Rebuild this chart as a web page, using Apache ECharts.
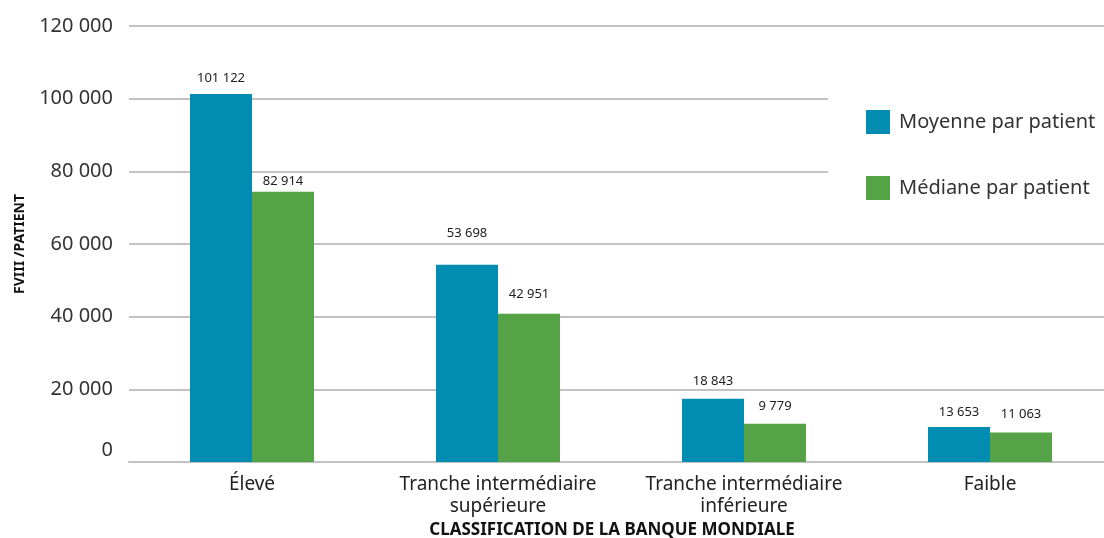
<!DOCTYPE html>
<html lang="fr">
<head>
    <meta charset="utf-8">
    <title>FVIII par patient selon la classification de la Banque mondiale</title>
    <script src="https://cdn.jsdelivr.net/npm/echarts@6/dist/echarts.min.js"></script>
    <style>
        html, body { margin: 0; padding: 0; background: #fff; overflow: hidden; }
        /* un peu plus large que la fenêtre : la dernière catégorie déborde à droite */
        #main { width: 1113px; height: 538px; }
    </style>
</head>
<body>
<div id="main"></div>
<script type="text/javascript">
    // données
    var categories = ['Élevé', 'Tranche intermédiaire\nsupérieure', 'Tranche intermédiaire\ninférieure', 'Faible'];
    var seriesNames = ['Moyenne par patient', 'Médiane par patient'];
    // hauteur des barres telle que dessinée
    var meanBars = [101300, 54300, 17400, 9600];
    var medianBars = [74400, 40800, 10500, 8100];
    // étiquettes affichées au-dessus des barres
    var meanLabels = [101122, 53698, 18843, 13653];
    var medianLabels = [82914, 42951, 9779, 11063];
    var yTicks = [0, 20000, 40000, 60000, 80000, 100000, 120000];

    // écart entre barre et étiquette (style)
    var meanLabelGap = [9, 25, 11, 8];
    var medianLabelGap = [4, 13, 11, 12];

    function fmt(v) {
        return String(v).replace(/\B(?=(\d{3})+(?!\d))/g, ' ');
    }

    function buildData(values, gaps) {
        return values.map(function (v, i) {
            return { value: v, label: { distance: gaps[i] } };
        });
    }

    var myChart = echarts.init(document.getElementById('main'));

    var option = {
        animation: false,
        textStyle: { fontFamily: '"Noto Sans", sans-serif' },
        color: ['#008db1', '#55a346'],
        title: {
            text: 'CLASSIFICATION DE LA BANQUE MONDIALE',
            left: 612,
            top: 522,
            padding: 0,
            textAlign: 'center',
            textStyle: { fontSize: 17, fontWeight: 'bold', color: '#111', fontFamily: '"Noto Sans", sans-serif' }
        },
        legend: {
            orient: 'vertical',
            left: 828,
            top: 95,
            padding: [15, 20, 20, 38],
            backgroundColor: '#fff',
            itemWidth: 24,
            itemHeight: 24,
            itemGap: 42,
            icon: 'rect',
            data: seriesNames,
            textStyle: { fontSize: 20, color: '#333', padding: [0, 0, 0, 4] }
        },
        grid: {
            left: 129,
            right: 0,
            top: 26,
            bottom: 76
        },
        xAxis: {
            type: 'category',
            data: categories,
            axisTick: { show: false },
            axisLine: { lineStyle: { color: '#c2c2c2', width: 2 } },
            axisLabel: {
                interval: 0,
                fontSize: 19,
                color: '#222',
                lineHeight: 22,
                margin: 12
            }
        },
        yAxis: {
            type: 'value',
            min: yTicks[0],
            max: yTicks[yTicks.length - 1],
            interval: yTicks[1] - yTicks[0],
            name: 'FVIII /PATIENT',
            nameLocation: 'middle',
            nameGap: 102,
            nameTextStyle: { fontSize: 14, fontWeight: 'bold', color: '#111' },
            axisLine: { show: false },
            axisTick: { show: false },
            splitLine: { lineStyle: { color: '#c2c2c2', width: 2 } },
            axisLabel: {
                fontSize: 20,
                color: '#333',
                margin: 16,
                formatter: function (v) {
                    return v === 0 ? '{z|0}' : fmt(v);
                },
                rich: {
                    z: { fontSize: 20, color: '#333', padding: [0, 0, 24, 0] }
                }
            }
        },
        series: [
            {
                name: seriesNames[0],
                type: 'bar',
                barWidth: 62,
                barGap: '0%',
                data: buildData(meanBars, meanLabelGap),
                label: {
                    show: true,
                    position: 'top',
                    fontSize: 13,
                    color: '#222',
                    formatter: function (p) { return fmt(meanLabels[p.dataIndex]); }
                }
            },
            {
                name: seriesNames[1],
                type: 'bar',
                barWidth: 62,
                barGap: '0%',
                data: buildData(medianBars, medianLabelGap),
                label: {
                    show: true,
                    position: 'top',
                    fontSize: 13,
                    color: '#222',
                    formatter: function (p) { return fmt(medianLabels[p.dataIndex]); }
                }
            }
        ]
    };

    myChart.setOption(option);
</script>
</body>
</html>
